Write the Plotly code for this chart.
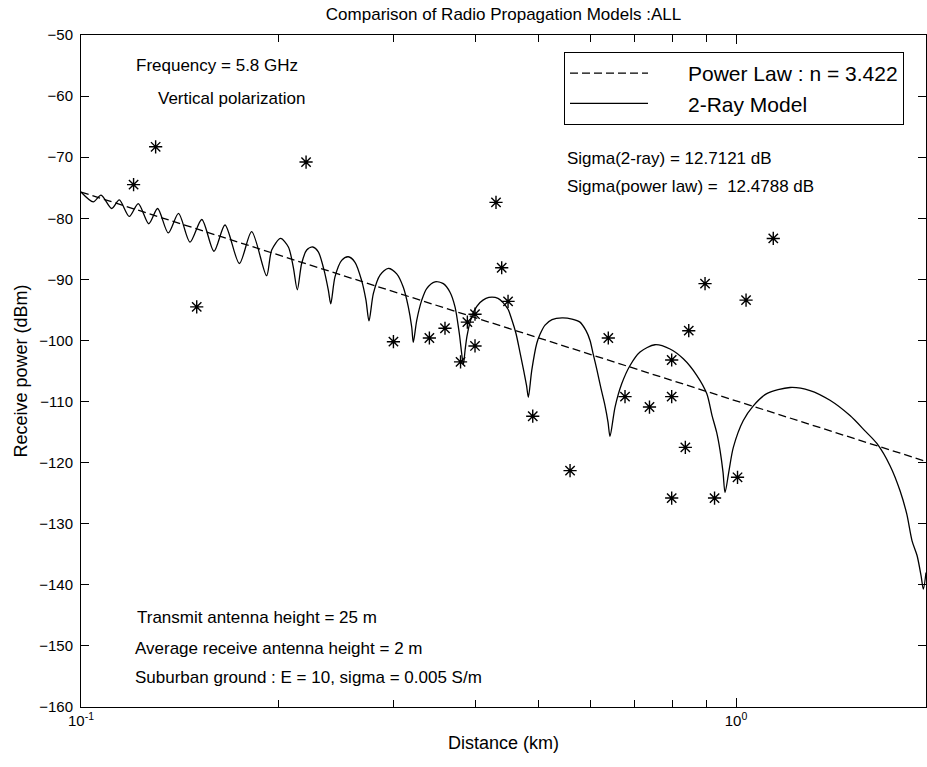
import math
import plotly.graph_objects as go

# ---- data ----
# 2-ray model curve: distance (km) / received power (dBm)
ray_d = [0.1000, 0.1044, 0.1073, 0.1114, 0.1144, 0.1185, 0.1223, 0.1269, 0.1309, 0.1359,
         0.1409, 0.1467, 0.1529, 0.1596, 0.1659, 0.1745, 0.1822, 0.1920, 0.1955, 0.2017,
         0.2073, 0.2109, 0.2139, 0.2172, 0.2211, 0.2258, 0.2303, 0.2350, 0.2386, 0.2406,
         0.2442, 0.2500, 0.2559, 0.2620, 0.2682, 0.2723, 0.2752, 0.2795, 0.2861, 0.2946,
         0.3034, 0.3105, 0.3160, 0.3198, 0.3216, 0.3255, 0.3313, 0.3371, 0.3471, 0.3574,
         0.3659, 0.3724, 0.3781, 0.3835, 0.3858, 0.3884, 0.3926, 0.3981, 0.4066, 0.4152,
         0.4241, 0.4331, 0.4409, 0.4487, 0.4550, 0.4615, 0.4680, 0.4746, 0.4789, 0.4819,
         0.4877, 0.4963, 0.5021, 0.5110, 0.5237, 0.5425, 0.5618, 0.5778, 0.5902, 0.5986,
         0.6049, 0.6135, 0.6222, 0.6310, 0.6377, 0.6421, 0.6536, 0.6691, 0.6890, 0.7136,
         0.7521, 0.7929, 0.8308, 0.8710, 0.9022, 0.9192, 0.9344, 0.9454, 0.9554, 0.9621,
         0.9757, 0.9906, 1.0259, 1.0627, 1.1141, 1.2092, 1.2972, 1.3914, 1.4928, 1.5736,
         1.6418, 1.7184, 1.7800, 1.8224, 1.8567, 1.8897, 1.9164, 1.9320, 1.9500]
ray_p = [-75.7, -77.3, -76.2, -78.4, -77.0, -79.7, -77.6, -80.9, -78.4, -82.4,
         -79.2, -83.9, -80.2, -85.4, -81.1, -87.4, -82.2, -89.4, -85.2, -83.3,
         -84.7, -88.0, -91.7, -87.4, -85.2, -84.7, -85.5, -88.5, -91.8, -94.0,
         -89.6, -86.9, -86.3, -87.2, -90.2, -93.4, -96.8, -92.3, -89.3, -88.2,
         -89.1, -91.3, -94.5, -97.8, -100.3, -96.7, -93.4, -91.5, -90.4, -90.7,
         -92.1, -94.5, -98.9, -103.9, -101.6, -99.3, -97.0, -95.2, -93.8, -93.1,
         -92.9, -93.1, -93.8, -94.9, -96.7, -98.9, -102.0, -105.2, -107.4, -109.3,
         -104.9, -100.5, -99.0, -97.5, -96.6, -96.3, -96.5, -97.0, -98.4, -100.0,
         -102.1, -104.9, -107.9, -110.7, -113.4, -115.7, -110.9, -107.1, -104.1, -101.9,
         -100.7, -101.4, -103.0, -105.7, -108.7, -112.3, -115.1, -118.0, -121.6, -124.9,
         -121.3, -117.5, -113.1, -110.7, -108.7, -107.7, -108.2, -109.8, -112.3, -114.8,
         -116.9, -120.5, -124.6, -128.4, -132.8, -135.2, -138.5, -140.7, -138.0]

# power law fit (n = 3.422): end points
plaw_d = [0.1, 1.95]
plaw_p = [-75.7, -119.8]

# measured points
meas_d = [0.1203, 0.1300, 0.2206, 0.1502, 0.2999, 0.3403, 0.3595, 0.3797, 0.3889, 0.3995,
          0.3995, 0.4301, 0.4388, 0.4487, 0.4894, 0.5580, 0.6383, 0.6769, 0.7377, 0.7976,
          0.7976, 0.7976, 0.8368, 0.8469, 0.8968, 0.9273, 1.0053, 1.0359, 1.1399]
meas_p = [-74.5, -68.3, -70.8, -94.5, -100.2, -99.6, -98.0, -103.5, -97.0, -95.7,
          -100.9, -77.4, -88.1, -93.6, -112.4, -121.3, -99.6, -109.2, -110.9, -103.2,
          -109.2, -125.8, -117.5, -98.4, -90.7, -125.8, -122.4, -93.4, -83.3]

x_tickvals = [0.1, 1]
x_ticktext = ["10<sup>-1</sup>", "10<sup>0</sup>"]
x_minor = [0.2, 0.3, 0.4, 0.5, 0.6, 0.7, 0.8, 0.9]
x_range_km = [0.1, 1.95]
y_range = [-160, -50]

title_text = "Comparison of Radio Propagation Models :ALL"
legend_names = ["Power Law : n = 3.422", "2-Ray Model"]
notes_upper_left = ["Frequency = 5.8 GHz", "Vertical polarization"]
notes_upper_right = ["Sigma(2-ray) = 12.7121 dB", "Sigma(power law) =\u00a0 12.4788 dB"]
notes_lower = ["Transmit antenna height = 25 m",
               "Average receive antenna height = 2 m",
               "Suburban ground : E = 10, sigma = 0.005 S/m"]

FONT = "Liberation Sans, Arial, Helvetica, sans-serif"
PAD = "\u00a0" * 6

fig = go.Figure()
fig.add_trace(go.Scatter(x=plaw_d, y=plaw_p, mode="lines",
                         name=PAD + legend_names[0],
                         line=dict(color="black", width=1.3, dash="8px,4px")))
fig.add_trace(go.Scatter(x=ray_d, y=ray_p, mode="lines", name=PAD + legend_names[1],
                         line=dict(color="black", width=1.3, shape="spline", smoothing=0.8)))
fig.add_trace(go.Scatter(x=meas_d, y=meas_p, mode="markers", showlegend=False,
                         marker=dict(symbol="asterisk-open", size=11, color="black",
                                     line=dict(color="black", width=1.4))))

L, R, T, B = 81, 1, 35, 60
W, H = 927, 767
pw, ph = W - L - R, H - T - B


def px(xp):
    return (xp - L) / pw


def py(yp):
    return (H - B - yp) / ph


annotations = []
for txt, (xp, yp) in zip(notes_upper_left, [(134, 66), (156, 98)]):
    annotations.append(dict(text=txt, x=px(xp), y=py(yp)))
for txt, (xp, yp) in zip(notes_upper_right, [(565, 158), (565, 187)]):
    annotations.append(dict(text=txt, x=px(xp), y=py(yp)))
for txt, (xp, yp) in zip(notes_lower, [(135, 617), (133, 648), (133, 677)]):
    annotations.append(dict(text=txt, x=px(xp), y=py(yp)))
for a in annotations:
    a.update(xref="paper", yref="paper", xanchor="left", yanchor="middle",
             showarrow=False, font=dict(family=FONT, size=17, color="black"))

fig.update_layout(
    width=W, height=H,
    margin=dict(l=L, r=R, t=T, b=B),
    paper_bgcolor="white", plot_bgcolor="white",
    font=dict(family=FONT, size=15, color="black"),
    title=dict(text=title_text, xref="paper", x=0.5, xanchor="center",
               yref="container", y=1 - 14 / H, yanchor="middle", font=dict(size=17)),
    showlegend=True,
    legend=dict(x=px(564), y=py(52), xanchor="left", yanchor="top",
                bgcolor="white", bordercolor="black", borderwidth=1,
                font=dict(size=21), itemwidth=78, tracegroupgap=0),
    annotations=annotations,
)
fig.update_xaxes(type="log", range=[math.log10(v) for v in x_range_km],
                 tickmode="array", tickvals=x_tickvals, ticktext=x_ticktext,
                 ticks="inside", ticklen=9, tickcolor="black",
                 minor=dict(tickvals=x_minor, ticks="inside", ticklen=7, tickcolor="black"),
                 showline=True, linecolor="black", linewidth=1, mirror="allticks",
                 showgrid=False, zeroline=False,
                 title=dict(text="Distance (km)", standoff=8))
fig.update_yaxes(range=y_range, dtick=10, tick0=-160,
                 ticks="inside", ticklen=8, tickcolor="black",
                 showline=True, linecolor="black", linewidth=1, mirror="allticks",
                 showgrid=False, zeroline=False, ticklabelstandoff=4,
                 title=dict(text="Receive power (dBm)", standoff=6))

fig.write_html("out.html")
